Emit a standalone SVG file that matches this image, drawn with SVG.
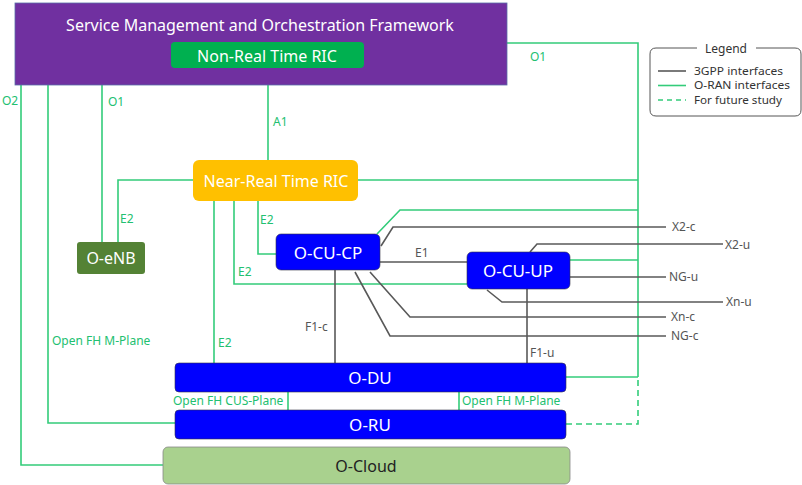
<svg xmlns="http://www.w3.org/2000/svg" width="802" height="485" viewBox="0 0 802 485">
<style>
.g{fill:none;stroke:#33CC7A;stroke-width:1.6}
.k{fill:none;stroke:#595959;stroke-width:1.6}
.d{fill:none;stroke:#33CC7A;stroke-width:1.6;stroke-dasharray:6,4}
text{font-family:"Noto Sans","DejaVu Sans",sans-serif}
.lg{font-size:12px;fill:#22C070}
.lk{font-size:12px;fill:#555}
.nt{font-size:16px;fill:#fff;text-anchor:middle;dominant-baseline:central}
.nb{font-size:17px}
.lt{font-size:10.5px;fill:#333}
</style>
<rect width="802" height="485" fill="#fff"/>
<g id="connectors">
<polyline class="g" points="21,85 21,465 163,465"/>
<polyline class="g" points="48,85 48,423 175,423"/>
<polyline class="g" points="102,85 102,242"/>
<polyline class="g" points="268,68 268,160"/>
<polyline class="g" points="507,43 638,43 638,377"/>
<polyline class="g" points="193,180 118,180 118,242"/>
<polyline class="g" points="358,180 638,180"/>
<polyline class="g" points="258,201 258,254 276,254"/>
<polyline class="g" points="234,201 234,284 467,284"/>
<polyline class="g" points="214,201 214,363"/>
<polyline class="g" points="377,234 400,210 638,210"/>
<polyline class="g" points="570,260 638,260"/>
<polyline class="g" points="566,377 638,377"/>
<polyline class="g" points="288,392 288,410"/>
<polyline class="g" points="459,392 459,410"/>
<polyline class="d" points="566,424 638,424 638,377"/>
<polyline class="k" points="381,246 393,227 666,227"/>
<polyline class="k" points="380,262 467,262"/>
<polyline class="k" points="530,252 537,244 723,244"/>
<polyline class="k" points="570,277 666,277"/>
<polyline class="k" points="487,290 502,302 723,302"/>
<polyline class="k" points="370,272 410,317 666,317"/>
<polyline class="k" points="355,272 390,336 666,336"/>
<polyline class="k" points="335,270 335,363"/>
<polyline class="k" points="527,289 527,363"/>
<text class="lg" x="2" y="105">O2</text>
<text class="lg" x="108" y="106">O1</text>
<text class="lg" x="273" y="126">A1</text>
<text class="lg" x="530" y="61">O1</text>
<text class="lg" x="120" y="223">E2</text>
<text class="lg" x="260" y="224">E2</text>
<text class="lg" x="238" y="276">E2</text>
<text class="lg" x="218" y="347">E2</text>
<text class="lg" x="52" y="345">Open FH M-Plane</text>
<text class="lg" x="173" y="405">Open FH CUS-Plane</text>
<text class="lg" x="462" y="405">Open FH M-Plane</text>
<text class="lk" x="415" y="257">E1</text>
<text class="lk" x="672" y="231">X2-c</text>
<text class="lk" x="725" y="249">X2-u</text>
<text class="lk" x="669" y="281">NG-u</text>
<text class="lk" x="726" y="306">Xn-u</text>
<text class="lk" x="671" y="321">Xn-c</text>
<text class="lk" x="671" y="340">NG-c</text>
<text class="lk" x="305" y="331">F1-c</text>
<text class="lk" x="530" y="357">F1-u</text>
</g>
<g id="smo">
<rect x="15" y="3" width="492" height="82" fill="#7030A0" stroke="#5B6FA8" stroke-width="0.8"/>
<text class="nt" x="260" y="25">Service Management and Orchestration Framework</text>
</g>
<g id="nonrt">
<rect x="171" y="42" width="193" height="26" rx="4" fill="#00B050"/>
<text class="nt" x="267" y="56">Non-Real Time RIC</text>
</g>
<g id="nearrt">
<rect x="193" y="160" width="165" height="41" rx="6" fill="#FFC000"/>
<text class="nt" x="276" y="181">Near-Real Time RIC</text>
</g>
<g id="oenb">
<rect x="77" y="242" width="68" height="32" rx="3" fill="#548235"/>
<text class="nt" x="111" y="258">O-eNB</text>
</g>
<g id="ocucp">
<rect x="276" y="234" width="104" height="36" rx="5" fill="#0000FF" stroke="#334" stroke-width="0.6"/>
<text class="nt nb" x="328" y="252">O-CU-CP</text>
</g>
<g id="ocuup">
<rect x="467" y="252" width="103" height="37" rx="5" fill="#0000FF" stroke="#334" stroke-width="0.6"/>
<text class="nt nb" x="518" y="270">O-CU-UP</text>
</g>
<g id="odu">
<rect x="175" y="363" width="391" height="29" rx="4" fill="#0000FF" stroke="#334" stroke-width="0.6"/>
<text class="nt nb" x="370" y="377">O-DU</text>
</g>
<g id="oru">
<rect x="175" y="410" width="391" height="29" rx="4" fill="#0000FF" stroke="#334" stroke-width="0.6"/>
<text class="nt nb" x="370" y="424">O-RU</text>
</g>
<g id="ocloud">
<rect x="163" y="447" width="407" height="37" rx="5" fill="#A9D18E" stroke="#888" stroke-width="0.8"/>
<text class="nt" x="366" y="466" style="fill:#222">O-Cloud</text>
</g>
<g id="legend">
<path d="M697,48 H656 Q650,48 650,54 V110 Q650,116 656,116 H795 Q801,116 801,110 V54 Q801,48 795,48 H756" fill="none" stroke="#555" stroke-width="1"/>
<text x="726" y="48" style="font-size:12px;fill:#333;text-anchor:middle;dominant-baseline:central">Legend</text>
<line x1="658" y1="71" x2="686" y2="71" stroke="#595959" stroke-width="1.6"/>
<line x1="658" y1="85.5" x2="686" y2="85.5" stroke="#33CC7A" stroke-width="1.6"/>
<line x1="658" y1="100" x2="686" y2="100" stroke="#33CC7A" stroke-width="1.6" stroke-dasharray="5,4"/>
<text class="lt" x="694" y="74.5" textLength="89" lengthAdjust="spacingAndGlyphs">3GPP interfaces</text>
<text class="lt" x="694" y="89" textLength="96" lengthAdjust="spacingAndGlyphs">O-RAN interfaces</text>
<text class="lt" x="694" y="103.5" textLength="88" lengthAdjust="spacingAndGlyphs">For future study</text>
</g>
</svg>
